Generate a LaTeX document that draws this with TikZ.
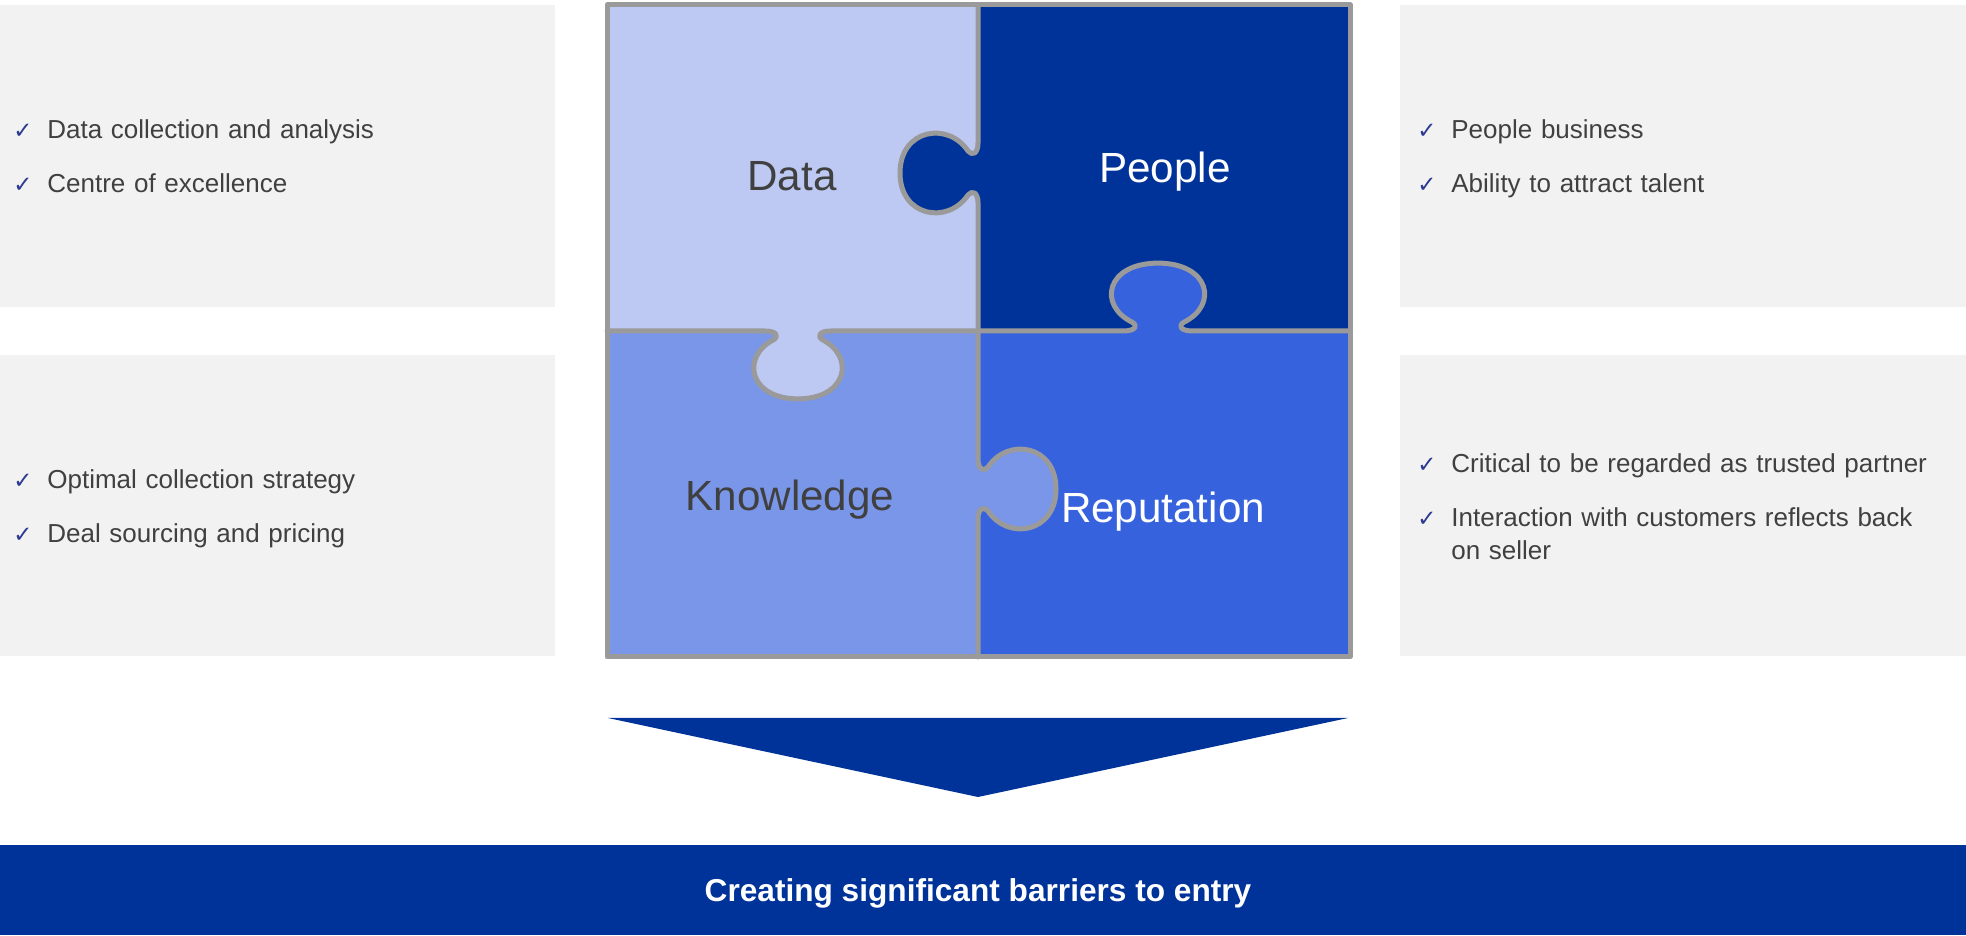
\documentclass[tikz,border=0pt]{standalone}
\usepackage{fontspec}
\setmainfont{Liberation Sans}
\newfontfamily\tickfont{DejaVu Sans}
\usetikzlibrary{positioning}
\definecolor{navyblue}{HTML}{003399}
\definecolor{paleblue}{HTML}{BDC9F2}
\definecolor{midblue}{HTML}{7A96E8}
\definecolor{brightblue}{HTML}{3762DE}
\definecolor{edgegray}{HTML}{9A9A9A}
\definecolor{boxgray}{HTML}{F2F2F2}
\definecolor{textgray}{HTML}{404040}
\definecolor{tickblue}{HTML}{2B3990}

% one bullet: check mark, then the text in a hanging box
\newcommand{\tk}[1]{\noindent
  \makebox[6.8mm][l]{\tickfont\color{tickblue}\fontsize{13}{13}\selectfont ✓}%
  \parbox[t]{\dimexpr\linewidth-6.8mm}{\raggedright #1}\par}
% puzzle knob along the local x axis, bulging to +y
\newcommand{\knob}{.. controls (19,0) and (17,6) .. (22,10)
  .. controls (52,30) and (44,78) .. (0,78)
  .. controls (-44,78) and (-52,30) .. (-22,10)
  .. controls (-17,6) and (-19,0) .. (-30,0)}

\begin{document}
\begin{tikzpicture}[x=0.2mm, y=0.2mm,
    edge/.style={draw=edgegray, line width=1mm, line join=round, line cap=round},
    panel/.style={fill=boxgray},
    tiplist/.style={anchor=base west, inner sep=0pt, text width=#1, align=left,
      text=textgray, font=\fontsize{14.8}{18.5}\selectfont,
      execute at begin node={\setlength{\parskip}{12pt}}},
    piece/.style={font=\fontsize{24}{28}\selectfont, text=#1}]
  \useasboundingbox (0,0) rectangle (1966,935);

  % side panels
  \fill[panel] (0,628) rectangle (555,930);
  \fill[panel] (0,279) rectangle (555,580);
  \fill[panel] (1400,628) rectangle (1966,930);
  \fill[panel] (1400,279) rectangle (1966,580);

  \node[tiplist=100mm] (datalist) at (13,796)
    {\tk{Data collection and analysis}\tk{Centre of excellence}};
  \node[tiplist=100mm] (knowlist) at (13,446)
    {\tk{Optimal collection strategy}\tk{Deal sourcing and pricing}};
  \node[tiplist=104.4mm] (peoplelist) at (1417,796)
    {\tk{People business}\tk{Ability to attract talent}};
  \node[tiplist=104.4mm] (replist) at (1417,462)
    {\tk{Critical to be regarded as trusted partner}\tk{Interaction with customers reflects back on seller}};

  % puzzle pieces
  \fill[paleblue] (607,604) rectangle (978,930);
  \fill[navyblue] (978,604) rectangle (1350,930);
  \fill[midblue] (607,278) rectangle (978,604);
  \fill[brightblue] (978,278) rectangle (1350,604);

  \begin{scope}[shift={(978,762)}, rotate=90]
    \fill[navyblue] (30,0) \knob -- cycle;
    \draw[edge] (168,0) -- (30,0) \knob -- (-158,0);
  \end{scope}
  \begin{scope}[shift={(798,604)}, rotate=180, xscale=1.11, yscale=0.87]
    \fill[paleblue] (30,0) \knob -- cycle;
    \draw[edge] (172,0) -- (30,0) \knob -- (-162,0);
  \end{scope}
  \begin{scope}[shift={(1158,604)}, xscale=1.17, yscale=0.87]
    \fill[brightblue] (30,0) \knob -- cycle;
    \draw[edge] (164,0) -- (30,0) \knob -- (-154,0);
  \end{scope}
  \begin{scope}[shift={(978,446)}, rotate=-90]
    \fill[midblue] (30,0) \knob -- cycle;
    \draw[edge] (168,0) -- (30,0) \knob -- (-158,0);
  \end{scope}
  \draw[edge] (607,278) rectangle (1350,930);

  \node[piece=textgray] (data) at (792,759) {Data};
  \node[piece=white] (people) at (1165,763) {People};
  \node[piece=textgray] (knowledge) at (790,435) {Knowledge};
  \node[piece=white] (reputation) at (1163,423) {Reputation};

  % arrow and banner
  \fill[navyblue] (608,217) -- (1348,217) -- (978,138) -- cycle;
  \fill[navyblue] (0,0) rectangle (1966,90);
  \node[text=white, font=\fontsize{18}{22}\selectfont\bfseries] (barrier) at (978,42)
    {Creating significant barriers to entry};
\end{tikzpicture}
\end{document}
